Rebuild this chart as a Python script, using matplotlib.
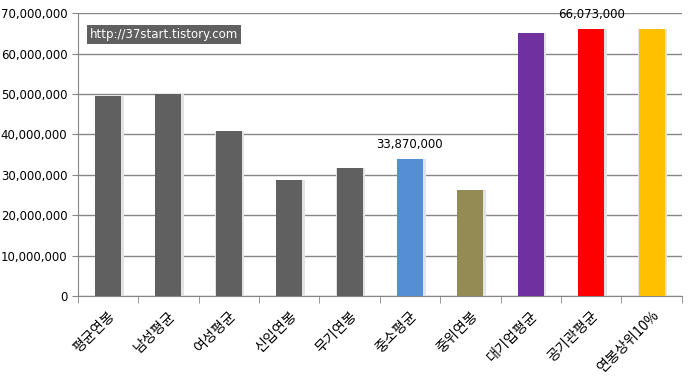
import numpy as np
import matplotlib.pyplot as plt
from matplotlib.ticker import MultipleLocator, FuncFormatter

plt.rcParams['font.family'] = ['Noto Sans CJK KR', 'DejaVu Sans']

categories = ['평균연봉', '남성평균', '여성평균', '신입연봉', '무기연봉',
              '중소평균', '중위연봉', '대기업평균', '공기관평균', '연봉상위10%']
values = [49500000, 50000000, 40800000, 28700000, 31700000,
          33870000, 26200000, 65200000, 66073000, 66000000]
colors = ['#606060', '#606060', '#606060', '#606060', '#606060',
          '#558ED5', '#948A54', '#7030A0', '#FF0000', '#FFC000']
labeled = {5: '33,870,000', 8: '66,073,000'}

fig = plt.figure(figsize=(6.88, 3.87), dpi=100)
ax = fig.add_axes([0.113, 0.235, 0.878, 0.731])

x = np.arange(len(categories))
# light shadow behind each bar
ax.bar(x + 0.02, values, width=0.48, color='#e3e3e3', zorder=2)
ax.bar(x, values, width=0.43, color=colors, zorder=3)

for i, txt in labeled.items():
    ax.text(x[i], values[i] + 2000000, txt, ha='center', va='bottom',
            fontsize=8.5, family='DejaVu Sans', zorder=4)

ax.set_xlim(-0.5, len(categories) - 0.5)
ax.set_ylim(0, 70000000)
ax.yaxis.set_major_locator(MultipleLocator(10000000))
ax.yaxis.set_major_formatter(FuncFormatter(lambda v, p: f'{int(v):,}'))
ax.grid(axis='y', color='#868686', linewidth=1, zorder=1)

ax.set_xticks(x)
ax.set_xticklabels(categories, rotation=45, ha='right', rotation_mode='anchor',
                   fontsize=10.2)
ax.set_xticks(np.arange(-0.5, len(categories)), minor=True)
ax.tick_params(axis='x', which='major', length=0, pad=9)
ax.tick_params(axis='x', which='minor', length=5, color='#868686')
ax.tick_params(axis='y', length=4, color='#868686', labelsize=8.5)
for lab in ax.get_yticklabels():
    lab.set_family('DejaVu Sans')

for s in ['top', 'right']:
    ax.spines[s].set_visible(False)
for s in ['left', 'bottom']:
    ax.spines[s].set_color('#868686')

ax.text(0.02, 0.925, 'http://37start.tistory.com', transform=ax.transAxes,
        fontsize=8.5, family='DejaVu Sans', color='white', va='center',
        bbox=dict(boxstyle='square,pad=0.25', facecolor='#606060', edgecolor='none'),
        zorder=5)

fig.savefig('out.png', dpi=100)
